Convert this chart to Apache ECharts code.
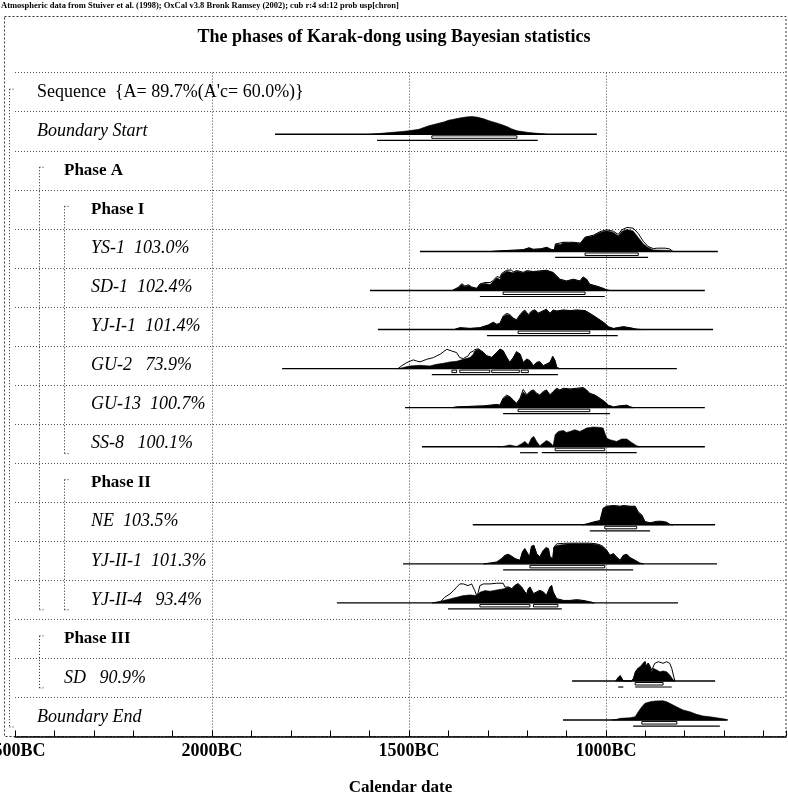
<!DOCTYPE html>
<html><head><meta charset="utf-8">
<script src="https://cdn.jsdelivr.net/npm/echarts@6/dist/echarts.min.js"></script>
<style>html,body{margin:0;padding:0;background:#fff}#c{width:788px;height:806px}</style>
</head><body><div id="c"></div>
<script>
// ---------- texts ----------
const headerNote = 'Atmospheric data from Stuiver et al. (1998); OxCal v3.8 Bronk Ramsey (2002); cub r:4 sd:12 prob usp[chron]';
const chartTitle = 'The phases of Karak-dong using Bayesian statistics';
const axisName = 'Calendar date';
const axisLabelYears = [2500, 2000, 1500, 1000];   // labelled years BC

// ---------- rows ----------
const rowLabels = [
  'Sequence  {A= 89.7%(A\'c= 60.0%)}',
  'Boundary Start',
  'Phase A',
  'Phase I',
  'YS-1  103.0%',
  'SD-1  102.4%',
  'YJ-I-1  101.4%',
  'GU-2   73.9%',
  'GU-13  100.7%',
  'SS-8   100.1%',
  'Phase II',
  'NE  103.5%',
  'YJ-II-1  101.3%',
  'YJ-II-4   93.4%',
  'Phase III',
  'SD   90.9%',
  'Boundary End'
];
const rowKinds = ['sequence','boundary','phase','phase','sample','sample','sample','sample','sample','sample','phase','sample','sample','sample','phase','sample','boundary'];
const rowLevels = [0,0,1,2,2,2,2,2,2,2,2,2,2,2,1,1,0];

// groups (brackets)
const groupFirstRow = [0, 2, 3, 10, 14];
const groupLastRow  = [16, 13, 9, 13, 15];
const groupLevel    = [0, 1, 2, 2, 1];

// ---------- distributions: [year BC, relative probability] ----------
const bStartSpan = [1840, 1023];
const bStartPost = [[1600,0],[1575,0.8],[1550,1.7],[1525,2.5],[1500,3.5],[1475,5],[1450,8.5],[1425,11],[1410,12.5],[1400,14],[1390,14.8],[1375,16],[1360,17],[1350,17.5],[1340,17.8],[1325,17],[1310,15.5],[1300,14],[1290,12.8],[1275,11],[1260,9],[1250,7.5],[1240,5.5],[1225,3.5],[1200,2],[1175,1],[1150,0]];
const bStartPrior = [];
const bStartR68 = [[1442,1226]];
const bStartR95 = [[1581,1173]];

const ys1Span = [1472, 716];
const ys1Post = [[1290,0],[1261,0.7],[1230,1.2],[1210,1.7],[1195,3.5],[1185,2],[1165,2.5],[1150,4],[1140,2],[1131,1.5],[1128,7.3],[1115,7],[1108,9],[1095,8.5],[1083,9],[1065,8],[1053,14],[1032,15.7],[1015,19],[998,20.7],[981,19],[969,15.5],[960,20],[947,22],[931,20.5],[918,14],[905,7.5],[893,4],[880,1.5],[860,1.3],[838,1],[830,0]];
const ys1Prior = [[1290,0],[1261,0.8],[1210,1.8],[1195,3.7],[1185,2.2],[1165,2.7],[1150,4.2],[1140,2.2],[1131,1.7],[1128,7.5],[1108,9.2],[1083,9.2],[1065,8.3],[1053,14.3],[1032,16.2],[1015,19.8],[998,21.7],[981,20.2],[969,17],[960,21.5],[947,24],[931,23.3],[918,18],[905,10],[893,5],[880,2.8],[870,3.3],[850,3.3],[838,2.5],[830,0]];
const ys1R68 = [[1053,918]];
const ys1R95 = [[1129,893]];

const sd1Span = [1599, 749];
const sd1Post = [[1390,0],[1375,2.7],[1366,6],[1358,3.7],[1349,5],[1341,3.3],[1328,2],[1320,6],[1307,7],[1294,6],[1286,9.3],[1277,12.7],[1269,11],[1265,16],[1252,19.3],[1235,17.7],[1227,19.3],[1210,17.7],[1201,19.3],[1184,18.7],[1168,19.3],[1151,20],[1134,17.7],[1125,14.3],[1117,11],[1100,9.3],[1083,11],[1066,9.3],[1058,13.3],[1049,11],[1041,6],[1024,4.3],[1007,2],[998,0.5],[990,0]];
const sd1Prior = [[1390,0],[1375,3.2],[1366,6.8],[1358,4.5],[1349,5.8],[1341,3.6],[1328,2.2],[1320,6.5],[1307,8],[1294,8],[1286,10],[1277,14],[1269,13],[1265,17],[1252,20.3],[1240,20.5],[1235,18.5],[1227,20],[1210,18.2],[1201,19.8],[1184,19],[1168,19.6],[1151,20.3],[1134,18],[1125,14.6],[1117,11.3],[1100,9.6],[1083,11.3],[1066,9.6],[1058,13.6],[1049,11.3],[1041,6.3],[1024,4.5],[1007,2.2],[998,0.6],[990,0]];
const sd1R68 = [[1261,1053]];
const sd1R95 = [[1320,1003]];

const yjI1Span = [1579, 728];
const yjI1Post = [[1385,0],[1371,1.7],[1345,1],[1320,1.7],[1299,4.3],[1286,7],[1277,5],[1269,6],[1261,12.7],[1252,15],[1244,14.3],[1235,11],[1227,9.3],[1218,14.3],[1210,17.7],[1206,18.7],[1197,14.3],[1189,17.7],[1180,19.3],[1172,16],[1163,17.7],[1151,20],[1142,16],[1134,19.3],[1125,18.3],[1108,19.3],[1091,18.7],[1074,19.3],[1053,18.7],[1041,16],[1028,12.7],[1015,9.3],[1003,6],[994,2.7],[981,1],[956,2.7],[939,1.7],[922,0.3],[910,0]];
const yjI1Prior = [[1385,0],[1371,1.9],[1345,1.2],[1320,1.9],[1299,4.6],[1286,7.3],[1277,5.3],[1269,6.3],[1261,13.5],[1252,16.2],[1244,15],[1235,11.5],[1227,9.8],[1218,15],[1210,18.5],[1206,19.5],[1197,15],[1189,18.5],[1180,19.8],[1172,16.5],[1163,18.2],[1151,20.3],[1142,16.3],[1134,19.6],[1125,18.6],[1108,19.6],[1091,19],[1074,19.6],[1053,19],[1041,16.3],[1028,13],[1015,9.6],[1003,6.3],[994,2.9],[981,1.1],[956,2.9],[939,1.8],[922,0.4],[910,0]];
const yjI1R68 = [[1223,1041]];
const yjI1R95 = [[1302,970]];

const gu2Span = [1822, 820];
const gu2Post = [[1530,0],[1523,0.3],[1498,2.7],[1472,3.3],[1447,2.7],[1430,4.3],[1413,5.3],[1396,6.7],[1379,7.3],[1362,9.3],[1345,11],[1337,14.3],[1333,17.7],[1324,19.3],[1311,16],[1303,12.7],[1290,11],[1277,16],[1269,19.3],[1261,17.7],[1252,11],[1244,6],[1235,11],[1227,16.7],[1218,14.3],[1210,6],[1201,9.3],[1193,7.7],[1184,2.7],[1176,6],[1168,6.7],[1159,2.7],[1151,4.3],[1142,6],[1135,12],[1129,7.7],[1125,1],[1117,0]];
const gu2Prior = [[1530,0],[1527,0.3],[1519,2.7],[1506,6],[1489,8.7],[1481,7.7],[1472,6.7],[1455,9.3],[1438,11],[1430,12.7],[1421,14.3],[1413,16.7],[1404,19.3],[1392,17.7],[1379,16],[1371,11],[1362,10],[1350,12.7],[1345,16],[1337,17.5],[1333,19],[1324,19.8],[1311,16.3],[1303,13],[1290,11.3],[1277,16.3],[1269,19.6],[1261,18],[1252,11.3],[1244,6.3],[1235,11.3],[1227,17],[1218,14.6],[1210,6.3],[1201,9.6],[1193,8],[1184,3],[1176,6.3],[1168,7],[1159,3],[1151,4.6],[1142,6.3],[1135,12.3],[1129,8],[1125,1.2],[1117,0]];
const gu2R68 = [[1391,1379],[1371,1295],[1290,1220],[1215,1197]];
const gu2R95 = [[1442,1122]];

const gu13Span = [1510, 749];
const gu13Post = [[1390,0],[1379,0.7],[1311,1.7],[1294,2.3],[1277,3],[1269,2.3],[1261,9],[1252,11.7],[1244,10.7],[1235,7.3],[1227,4],[1218,9],[1210,15.7],[1201,12.3],[1193,15.7],[1184,17.3],[1176,14],[1168,12.3],[1159,15.7],[1151,17.3],[1142,12.3],[1134,15.7],[1125,19],[1117,17.3],[1108,19],[1091,18.3],[1074,19],[1058,19.7],[1049,17.3],[1041,14],[1028,12.3],[1015,9],[1003,5.7],[994,2.3],[981,0.7],[964,1.7],[947,2.3],[939,0.7],[930,0]];
const gu13Prior = [[1390,0],[1379,0.8],[1311,1.8],[1294,2.5],[1277,3.2],[1269,2.5],[1261,9.5],[1252,12.5],[1244,11],[1235,7.6],[1227,4.3],[1218,9.5],[1210,18.3],[1201,13],[1193,16.2],[1184,17.8],[1176,14.5],[1168,12.8],[1159,16.2],[1151,17.8],[1142,12.8],[1134,16.2],[1125,19.4],[1117,17.7],[1108,19.4],[1091,18.7],[1074,19.4],[1058,20.1],[1049,17.7],[1041,14.4],[1028,12.6],[1015,9.3],[1003,6],[994,2.5],[981,0.8],[964,1.9],[947,2.5],[939,0.8],[930,0]];
const gu13R68 = [[1223,1041]];
const gu13R95 = [[1261,990]];

const ss8Span = [1467, 749];
const ss8Post = [[1275,0],[1261,0.3],[1244,1.7],[1227,0.3],[1214,3],[1206,5.3],[1197,2],[1189,8.7],[1183,10.3],[1176,5.3],[1168,1],[1159,3.7],[1151,6.3],[1142,4.3],[1134,1],[1129,12],[1121,15.3],[1108,16.3],[1100,14.3],[1091,15.3],[1079,17],[1066,15.3],[1049,18.7],[1032,19.7],[1015,19.3],[1007,18.7],[1003,13.7],[998,8.7],[990,7],[973,5.3],[960,7.7],[947,7.7],[935,4.3],[922,1],[914,0]];
const ss8Prior = [];
const ss8R68 = [[1129,1003]];
const ss8R95 = [[1218,1173],[1163,922]];

const neSpan = [1338, 723];
const nePost = [[1060,0],[1049,0.7],[1028,3],[1015,4],[1007,16.3],[998,18.3],[981,19],[964,18.3],[956,19],[939,18.3],[926,18.3],[918,12.3],[909,9],[901,3],[888,1.7],[871,3],[859,3.3],[846,2.3],[838,0.3],[830,0]];
const nePrior = [[1060,0],[1049,0.8],[1028,3.2],[1015,4.2],[1007,16.6],[998,18.6],[981,19.3],[964,18.6],[956,19.3],[939,18.6],[926,18.6],[918,13],[909,10],[901,3.3],[888,2],[871,3.5],[859,3.6],[846,2.6],[838,0.5],[830,0]];
const neR68 = [[1003,922]];
const neR95 = [[1041,888]];

const yjII1Span = [1515, 718];
const yjII1Post = [[1310,0],[1294,0.7],[1277,1.7],[1265,5],[1256,8.3],[1248,9.3],[1239,7.3],[1231,5],[1218,3.3],[1212,11.7],[1206,15],[1201,11.7],[1194,6.7],[1189,17.3],[1183,18.3],[1176,10],[1168,6.7],[1159,13.3],[1152,16],[1146,15],[1142,6.7],[1135,5],[1132,16.7],[1125,18.3],[1108,19.3],[1091,20],[1066,20],[1041,20],[1024,19.3],[1015,18.3],[1007,16.7],[998,13.3],[990,8.3],[981,10],[973,6.7],[964,3.3],[956,8.3],[947,9.3],[939,6],[926,3.3],[914,0.7],[905,0]];
const yjII1Prior = [[1310,0],[1294,0.8],[1277,1.9],[1265,5.3],[1256,8.6],[1248,9.6],[1239,7.6],[1231,5.3],[1218,3.6],[1212,12],[1206,15.3],[1201,12],[1194,7],[1189,17.6],[1183,18.6],[1176,10.3],[1168,7],[1159,13.6],[1152,16.3],[1146,15.3],[1142,7],[1135,5.3],[1132,16.7],[1125,20],[1108,20.5],[1091,20.7],[1066,20.7],[1041,20.7],[1024,20],[1015,19],[1007,17.3],[998,13.6],[990,8.6],[981,10.3],[973,7],[964,3.6],[956,8.6],[947,9.6],[939,6.3],[926,3.6],[914,0.8],[905,0]];
const yjII1R68 = [[1193,1003]];
const yjII1R95 = [[1261,931]];

const yjII4Span = [1683, 817];
const yjII4Post = [[1440,0],[1430,0.7],[1413,2.3],[1396,4],[1379,5.7],[1362,7.3],[1345,8],[1328,7.3],[1320,10.7],[1307,12.3],[1294,11.7],[1277,13],[1261,14],[1248,15.7],[1239,14],[1231,17.3],[1223,19],[1214,15.7],[1206,10.7],[1201,9],[1197,14],[1193,15.7],[1184,9],[1176,10.7],[1168,12.3],[1159,10.7],[1151,7.3],[1142,15.7],[1138,17.3],[1134,10.7],[1125,4],[1108,2.3],[1091,2.3],[1074,3],[1058,2.3],[1041,1],[1030,0]];
const yjII4Prior = [[1440,0],[1430,0.7],[1421,0.8],[1409,5.7],[1396,9],[1387,12.3],[1379,15.7],[1371,19],[1362,19],[1350,17.3],[1341,19],[1333,12.3],[1328,7.3],[1324,10.7],[1320,17.3],[1311,19],[1294,19],[1277,19.7],[1261,19.7],[1256,15.7],[1248,16],[1239,14.3],[1231,17.6],[1223,19.3],[1214,16],[1206,11],[1201,9.3],[1197,14.3],[1193,16],[1184,9.3],[1176,11],[1168,12.6],[1159,11],[1151,7.6],[1142,16],[1138,17.6],[1134,11],[1125,4.3],[1108,2.5],[1091,2.5],[1074,3.2],[1058,2.5],[1041,1.1],[1030,0]];
const yjII4R68 = [[1320,1193],[1184,1122]];
const yjII4R95 = [[1401,1112]];

const sdSpan = [1086, 723];
const sdPost = [[975,0],[969,3.3],[964,5.3],[960,2.7],[956,0],[935,0],[930,2.7],[925,9.3],[918,12.7],[912,14.3],[905,17.7],[901,19.3],[897,14.3],[893,17.7],[888,14.3],[884,9.3],[880,12.7],[871,11],[863,9.3],[855,10],[846,9.3],[838,6],[829,1],[825,0]];
const sdPrior = [[975,0],[969,3.5],[964,5.5],[960,2.8],[956,0],[935,0],[930,2.8],[925,9.5],[918,13],[912,14.6],[905,18],[901,19.6],[897,14.6],[893,18],[888,14.6],[884,11],[876,17.7],[867,19.3],[855,17.7],[846,19.3],[838,17.7],[833,12.7],[829,6],[825,0]];
const sdR68 = [[926,855]];
const sdR95 = [[969,956],[926,833]];

const bEndSpan = [1109, 693];
const bEndPost = [[985,0],[973,0.7],[964,1.7],[939,2.3],[926,3.3],[918,8.3],[909,13.3],[901,16.7],[888,18.3],[876,19],[855,19.3],[846,18.3],[838,16.7],[821,13.3],[804,10],[787,8.3],[770,5.7],[753,4],[736,3.3],[719,2.3],[698,1],[690,0]];
const bEndPrior = [];
const bEndR68 = [[909,820]];
const bEndR95 = [[931,711]];

const distributions = [
  {row: 1,  span: bStartSpan, post: bStartPost, prior: bStartPrior, r68: bStartR68, r95: bStartR95},
  {row: 4,  span: ys1Span,    post: ys1Post,    prior: ys1Prior,    r68: ys1R68,    r95: ys1R95},
  {row: 5,  span: sd1Span,    post: sd1Post,    prior: sd1Prior,    r68: sd1R68,    r95: sd1R95},
  {row: 6,  span: yjI1Span,   post: yjI1Post,   prior: yjI1Prior,   r68: yjI1R68,   r95: yjI1R95},
  {row: 7,  span: gu2Span,    post: gu2Post,    prior: gu2Prior,    r68: gu2R68,    r95: gu2R95},
  {row: 8,  span: gu13Span,   post: gu13Post,   prior: gu13Prior,   r68: gu13R68,   r95: gu13R95},
  {row: 9,  span: ss8Span,    post: ss8Post,    prior: ss8Prior,    r68: ss8R68,    r95: ss8R95},
  {row: 11, span: neSpan,     post: nePost,     prior: nePrior,     r68: neR68,     r95: neR95},
  {row: 12, span: yjII1Span,  post: yjII1Post,  prior: yjII1Prior,  r68: yjII1R68,  r95: yjII1R95},
  {row: 13, span: yjII4Span,  post: yjII4Post,  prior: yjII4Prior,  r68: yjII4R68,  r95: yjII4R95},
  {row: 15, span: sdSpan,     post: sdPost,     prior: sdPrior,     r68: sdR68,     r95: sdR95},
  {row: 16, span: bEndSpan,   post: bEndPost,   prior: bEndPrior,   r68: bEndR68,   r95: bEndR95}
];

// ---------- rendering ----------
const SERIF = '"Liberation Serif", "Times New Roman", serif';
const chart = echarts.init(document.getElementById('c'), null, {renderer: 'canvas'});

const labelFont = {
  sequence: {fontStyle: 'normal', fontWeight: 'normal', fontSize: 18},
  boundary: {fontStyle: 'italic', fontWeight: 'normal', fontSize: 18},
  phase:    {fontStyle: 'normal', fontWeight: 'bold',   fontSize: 17},
  sample:   {fontStyle: 'italic', fontWeight: 'normal', fontSize: 18}
};
const levelIndent = [22, 49, 76];
const bracketOffset = [-6, 24, 49];
const dotted = [1, 2];

function renderLabel(params, api) {
  const i = api.value(1);
  const p = api.coord([api.value(0), i]);
  const f = labelFont[rowKinds[i]];
  return {
    type: 'text',
    style: {
      text: rowLabels[i], x: params.coordSys.x + levelIndent[rowLevels[i]], y: p[1],
      fill: '#000', fontFamily: SERIF, fontSize: f.fontSize, fontStyle: f.fontStyle, fontWeight: f.fontWeight,
      align: 'left', verticalAlign: 'middle'
    }
  };
}

function renderBracket(params, api) {
  const g = params.dataIndex;
  const x = params.coordSys.x + bracketOffset[groupLevel[g]] + 0.5;
  const y1 = api.coord([-2500, groupFirstRow[g]])[1] - 3;
  const y2 = api.coord([-2500, groupLastRow[g]])[1] + 10;
  const st = {stroke: '#222', lineWidth: 1, lineDash: dotted};
  return {type: 'group', children: [
    {type: 'line', shape: {x1: x, y1: y1, x2: x, y2: y2}, style: st},
    {type: 'line', shape: {x1: x, y1: y1, x2: x + 5, y2: y1}, style: st},
    {type: 'line', shape: {x1: x, y1: y2, x2: x + 4, y2: y2}, style: st}
  ]};
}

function renderDist(params, api) {
  const d = distributions[params.dataIndex];
  const row = api.value(1);
  const bandH = api.size([0, 1])[1];
  const k = bandH / 39.05;
  const cy = api.coord([-2500, row])[1];
  const base = cy + 0.079 * bandH;
  const X = yr => api.coord([-yr, row])[0];
  const ch = [];
  ch.push({type: 'line', shape: {x1: X(d.span[0]), y1: base, x2: X(d.span[1]), y2: base},
           style: {stroke: '#000', lineWidth: 1.4}});
  if (d.prior.length) {
    ch.push({type: 'polyline', shape: {points: d.prior.map(p => [X(p[0]), base - p[1] * k])},
             style: {stroke: '#000', fill: null, lineWidth: 1}});
  }
  ch.push({type: 'polygon', shape: {points: d.post.map(p => [X(p[0]), base - p[1] * k])},
           style: {fill: '#000', stroke: '#000', lineWidth: 0.6}});
  d.r68.forEach(r => ch.push({type: 'rect',
    shape: {x: X(r[0]), y: base + 1.5, width: X(r[1]) - X(r[0]), height: 2.5},
    style: {fill: '#fff', stroke: '#000', lineWidth: 1}}));
  d.r95.forEach(r => ch.push({type: 'line',
    shape: {x1: X(r[0]), y1: base + 6, x2: X(r[1]), y2: base + 6},
    style: {stroke: '#000', lineWidth: 1.2}}));
  return {type: 'group', children: ch};
}

const option = {
  animation: false,
  backgroundColor: '#fff',
  title: [
    {text: headerNote, left: 1, top: 1, padding: 0,
     textStyle: {fontSize: 8.5, fontWeight: 'bold', fontFamily: SERIF, color: '#000'}},
    {text: chartTitle, left: 'center', top: 28, padding: 0,
     textStyle: {fontSize: 18, fontWeight: 'bold', fontFamily: SERIF, color: '#000'}}
  ],
  graphic: [
    {type: 'rect', z: -1, shape: {x: 4.5, y: 16.5, width: 781.5, height: 720},
     style: {fill: null, stroke: '#333', lineWidth: 1, lineDash: [2, 2]}}
  ],
  grid: {left: 15, right: 2, top: 72.65, bottom: 69.5, containLabel: false, outerBoundsMode: 'none'},
  xAxis: [
    {
      type: 'value', min: -2500, max: -543, interval: 100, position: 'bottom',
      axisLine: {show: true, lineStyle: {color: '#000', width: 1.5}},
      axisTick: {show: true, inside: true, length: 6, lineStyle: {color: '#000', width: 1}},
      axisLabel: {
        formatter: v => axisLabelYears.includes(-v) ? (-v) + 'BC' : '',
        fontFamily: SERIF, fontSize: 18, fontWeight: 'bold', color: '#000', margin: 6,
        showMinLabel: true, showMaxLabel: true, hideOverlap: false
      },
      splitLine: {show: false},
      name: axisName, nameLocation: 'middle', nameGap: 43,
      nameTextStyle: {fontFamily: SERIF, fontSize: 17, fontWeight: 'bold', color: '#000'}
    },
    {
      type: 'value', min: -2500, max: -543, interval: 500, position: 'bottom',
      axisLine: {show: false}, axisTick: {show: false}, axisLabel: {show: false},
      splitLine: {show: true, showMinLine: false, showMaxLine: false,
                  lineStyle: {type: dotted, color: '#444', width: 1}}
    }
  ],
  yAxis: {
    type: 'category', inverse: true, data: rowLabels,
    axisLine: {show: false}, axisTick: {show: false}, axisLabel: {show: false},
    splitLine: {show: true, lineStyle: {type: dotted, color: '#555', width: 1}}
  },
  series: [
    {type: 'custom', name: 'brackets', renderItem: renderBracket, clip: false, silent: true,
     data: groupFirstRow.map((r, g) => [-2500, r]), encode: {x: 0, y: 1}},
    {type: 'custom', name: 'labels', renderItem: renderLabel, clip: false, silent: true,
     data: rowLabels.map((t, i) => [-2500, i]), encode: {x: 0, y: 1}},
    {type: 'custom', name: 'distributions', renderItem: renderDist, clip: false, silent: true,
     data: distributions.map(d => [-d.span[0], d.row]), encode: {x: 0, y: 1}}
  ]
};
chart.setOption(option);
</script>
</body></html>
